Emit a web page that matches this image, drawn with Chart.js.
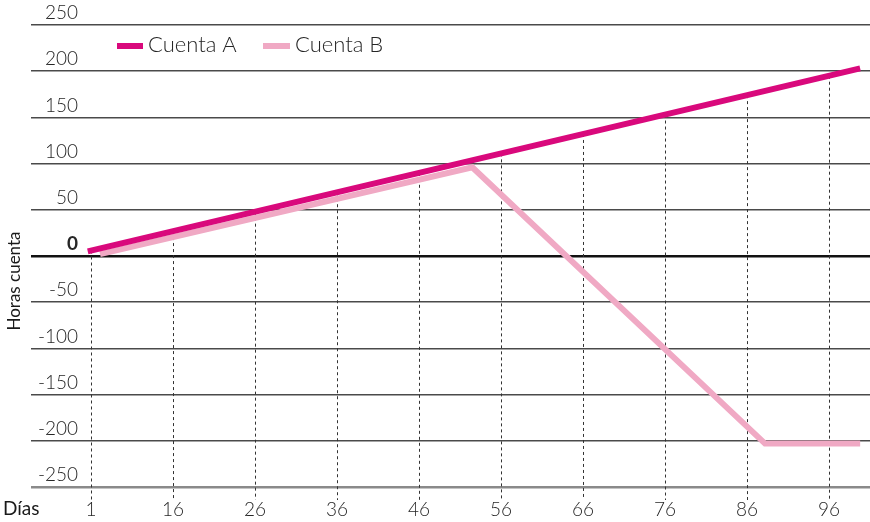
<!DOCTYPE html>
<html lang="es">
<head>
<meta charset="utf-8">
<title>Horas cuenta</title>
<script src="https://cdn.jsdelivr.net/npm/chart.js@4/dist/chart.umd.min.js"></script>
<style>
  html, body { margin: 0; padding: 0; background: #ffffff; }
  #wrap { width: 870px; height: 522px; }
  canvas { display: block; }
</style>
</head>
<body>
<div id="wrap"><canvas id="chart" width="870" height="522"></canvas></div>
<script>
// Tick labels along the day axis (one slot per label)
const xTickLabels = ['1', '16', '26', '36', '46', '56', '66', '76', '86', '96'];

// Positions on the day axis, in label slots
const cuentaAX = [-0.04, 9.38];
const cuentaAY = [5, 203];

const cuentaBX = [0.11, 4.65, 8.22, 9.38];
const cuentaBY = [2, 96, -203, -203];

// Hours axis
const yMin = -250;
const yMax = 250;
const yStep = 50;

const seriesNames = ['Cuenta A', 'Cuenta B'];
const seriesColors = ['#d9097c', '#f0a9c4'];

const FONT = 'Lato, "Open Sans", "DejaVu Sans", sans-serif';
const TEXT_COLOR = '#262626';

function toPoints(xs, ys) {
  return xs.map((x, i) => ({ x: x, y: ys[i] }));
}

// Dashed drop lines from the Cuenta A line down past the axis
const dropLines = {
  id: 'dropLines',
  beforeDatasetsDraw(chart) {
    const meta = chart.getDatasetMeta(0);
    const pts = meta.data;
    const xs = chart.scales.x;
    const ctx = chart.ctx;
    const bottom = chart.chartArea.bottom + 13;
    ctx.save();
    ctx.strokeStyle = '#333333';
    ctx.lineWidth = 1;
    ctx.setLineDash([3, 3]);
    xs.ticks.forEach(t => {
      const px = Math.round(xs.getPixelForValue(t.value)) + 0.5;
      let py = null;
      for (let i = 0; i < pts.length - 1; i++) {
        const a = pts[i], b = pts[i + 1];
        if (px >= a.x && px <= b.x) {
          py = a.y + (b.y - a.y) * (px - a.x) / (b.x - a.x);
        }
      }
      if (py === null) return;
      ctx.beginPath();
      ctx.moveTo(px, py);
      ctx.lineTo(px, bottom);
      ctx.stroke();
    });
    ctx.restore();
  }
};

// Legend inside the plot, axis captions
const annotations = {
  id: 'annotations',
  afterDraw(chart) {
    const ctx = chart.ctx;
    ctx.save();
    // legend
    const entries = [
      { x0: 117, x1: 143, tx: 148 },
      { x0: 263, x1: 290, tx: 295 }
    ];
    chart.data.datasets.forEach((ds, i) => {
      const e = entries[i];
      ctx.strokeStyle = ds.borderColor;
      ctx.lineWidth = 6;
      ctx.setLineDash([]);
      ctx.beginPath();
      ctx.moveTo(e.x0, 46);
      ctx.lineTo(e.x1, 46);
      ctx.stroke();
      ctx.fillStyle = TEXT_COLOR;
      ctx.font = '300 22px ' + FONT;
      ctx.textAlign = 'left';
      ctx.textBaseline = 'middle';
      ctx.fillText(ds.label, e.tx, 45);
    });
    // axis captions
    ctx.fillStyle = '#1a1a1a';
    ctx.font = '400 19px ' + FONT;
    ctx.textAlign = 'left';
    ctx.textBaseline = 'middle';
    ctx.fillText('Días', 3, 509);
    ctx.translate(15, 281);
    ctx.rotate(-Math.PI / 2);
    ctx.textAlign = 'center';
    ctx.font = '400 17px ' + FONT;
    ctx.fillText('Horas cuenta', 0, 0);
    ctx.restore();
  }
};

new Chart(document.getElementById('chart'), {
  type: 'line',
  data: {
    datasets: [
      {
        label: seriesNames[0],
        data: toPoints(cuentaAX, cuentaAY),
        borderColor: seriesColors[0],
        borderWidth: 6,
        borderCapStyle: 'butt',
        borderJoinStyle: 'miter',
        pointRadius: 0,
        tension: 0,
        fill: false
      },
      {
        label: seriesNames[1],
        data: toPoints(cuentaBX, cuentaBY),
        borderColor: seriesColors[1],
        borderWidth: 6,
        borderCapStyle: 'butt',
        borderJoinStyle: 'miter',
        pointRadius: 0,
        tension: 0,
        fill: false
      }
    ]
  },
  options: {
    responsive: false,
    devicePixelRatio: 1,
    animation: false,
    layout: { padding: { top: 25, right: 0, bottom: 0, left: 0 } },
    plugins: {
      legend: { display: false },
      tooltip: { enabled: false }
    },
    scales: {
      x: {
        type: 'linear',
        min: -0.732,
        max: 9.5,
        afterBuildTicks(scale) {
          scale.ticks = xTickLabels.map((_, i) => ({ value: i }));
        },
        afterFit(scale) { scale.height = 35; },
        grid: { display: false, drawTicks: false },
        border: { display: false },
        ticks: {
          autoSkip: false,
          maxRotation: 0,
          padding: 11,
          color: TEXT_COLOR,
          font: { family: FONT, size: 19, weight: '300' },
          callback: (v) => xTickLabels[v]
        }
      },
      y: {
        type: 'linear',
        min: yMin,
        max: yMax,
        afterFit(scale) { scale.width = 31; },
        border: { display: false },
        grid: {
          drawTicks: false,
          color: (ctx) => {
            const v = ctx.tick && ctx.tick.value;
            if (v === 0) return '#111111';
            if (v === yMin) return '#8a8a8a';
            return '#4a4a4a';
          },
          lineWidth: (ctx) => {
            const v = ctx.tick && ctx.tick.value;
            if (v === 0) return 2.5;
            if (v === yMin) return 2.5;
            return 1.5;
          }
        },
        ticks: {
          stepSize: yStep,
          mirror: true,
          crossAlign: 'far',
          padding: 7,
          labelOffset: -12,
          color: TEXT_COLOR,
          font: (ctx) => (ctx.tick && ctx.tick.value === 0)
            ? { family: FONT, size: 19, weight: 'bold' }
            : { family: FONT, size: 19, weight: '300' }
        }
      }
    }
  },
  plugins: [dropLines, annotations]
});
</script>
</body>
</html>
